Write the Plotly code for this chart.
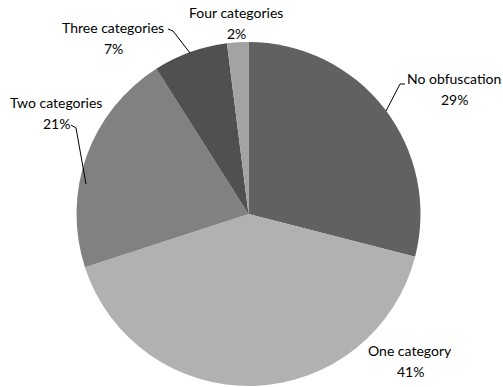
import plotly.graph_objects as go

labels = ["No obfuscation", "One category", "Two categories", "Three categories", "Four categories"]
values = [29, 41, 21, 7, 2]
colors = ["#616161", "#b1b1b1", "#818181", "#505050", "#a3a3a3"]

W, H = 503, 387

def px(x, y):
    return x / W, 1 - y / H

# label placement (pixel centres of the name line) and leader paths
label_pos = {
    "No obfuscation": (454, 78),
    "One category": (410, 350),
    "Two categories": (56, 102),
    "Three categories": (113, 27),
    "Four categories": (236, 12),
}
leaders = [
    [(386, 111), (400, 84), (405, 84)],
    [(86, 184), (76, 128), (71, 125)],
    [(190, 53), (173, 31), (168, 29)],
]

fig = go.Figure(go.Pie(
    labels=labels, values=values, sort=False, direction="clockwise", rotation=0,
    marker=dict(colors=colors, line=dict(width=0)),
    textinfo="none", hoverinfo="label+percent", showlegend=False,
    domain=dict(x=[76 / W, 421 / W], y=[1 - 386 / H, 1 - 42 / H]),
))

font = dict(family="Lato, Open Sans, sans-serif", size=14, color="black")
anns = []
for lab, val in zip(labels, values):
    cx, cy = label_pos[lab]
    x, y = px(cx, cy)
    anns.append(dict(x=x, y=y, xref="paper", yref="paper", text=lab, showarrow=False,
                     font=font, xanchor="center", yanchor="middle"))
    x2, y2 = px(cx, cy + 21)
    anns.append(dict(x=x2, y=y2, xref="paper", yref="paper", text=f"{val}%", showarrow=False,
                     font=font, xanchor="center", yanchor="middle"))

shapes = []
for pts in leaders:
    path = "M " + " L ".join(f"{px(a, b)[0]},{px(a, b)[1]}" for a, b in pts)
    shapes.append(dict(type="path", path=path, xref="paper", yref="paper",
                       line=dict(color="black", width=1)))

fig.update_layout(width=W, height=H, margin=dict(l=0, r=0, t=0, b=0),
                  paper_bgcolor="white", plot_bgcolor="white",
                  annotations=anns, shapes=shapes)
fig.write_html("out.html")
